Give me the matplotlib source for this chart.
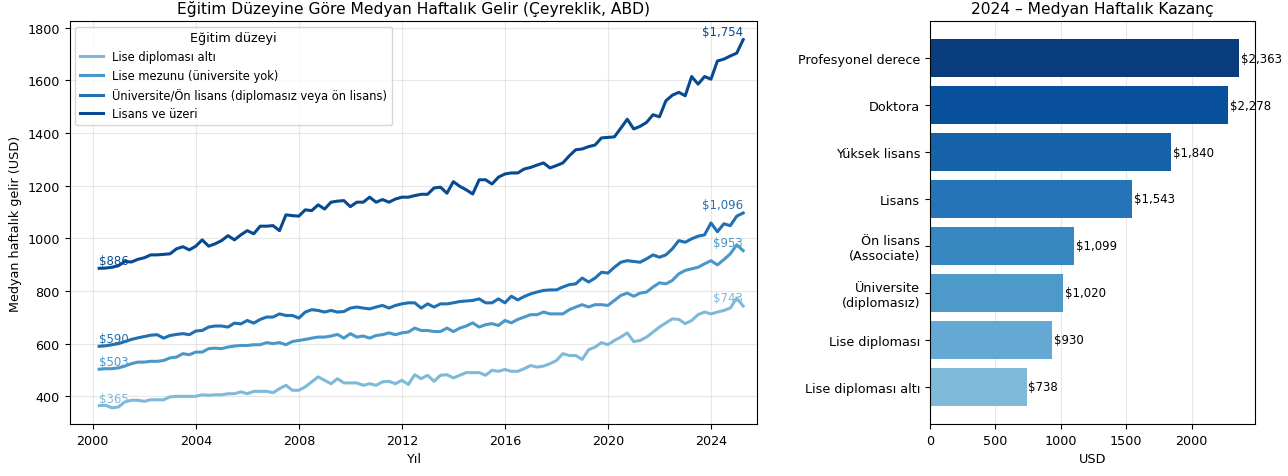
import numpy as np
import matplotlib
matplotlib.use("Agg")
import matplotlib.pyplot as plt

# quarterly medians, 2000Q1 .. 2025Q1
lise_alti = [
    365, 366, 356, 360,
    379, 385, 385, 381,
    387, 387, 387, 398,
    400, 400, 400, 400,
    406, 404, 406, 406,
    410, 410, 417, 410,
    419, 419, 419, 414,
    429, 442, 423, 423,
    436, 455, 474, 461,
    448, 467, 451, 451,
    451, 442, 448, 442,
    455, 457, 448, 461,
    445, 482, 467, 480,
    457, 480, 482, 470,
    480, 490, 490, 490,
    480, 499, 495, 502,
    495, 495, 505, 517,
    511, 515, 524, 536,
    562, 555, 555, 540,
    577, 587, 604, 596,
    612, 625, 641, 608,
    612, 625, 644, 663,
    679, 694, 692, 676,
    688, 710, 720, 713,
    720, 726, 735, 773,
    743,
]
lise_mezunu = [
    503, 505, 505, 508,
    515, 524, 530, 530,
    533, 533, 536, 546,
    549, 562, 558, 568,
    568, 581, 583, 581,
    587, 591, 593, 593,
    596, 596, 604, 600,
    604, 596, 608, 612,
    616, 621, 625, 625,
    629, 635, 621, 638,
    625, 629, 621, 631,
    634, 641, 634, 641,
    644, 659, 650, 650,
    646, 646, 659, 646,
    659, 667, 679, 663,
    672, 676, 669, 688,
    679, 692, 701, 710,
    710, 720, 713, 713,
    713, 729, 739, 748,
    739, 748, 748, 745,
    764, 783, 792, 780,
    792, 796, 815, 831,
    827, 840, 865, 878,
    884, 890, 903, 915,
    899, 919, 941, 975,
    953,
]
universite = [
    590, 592, 596, 600,
    608, 616, 622, 627,
    632, 634, 621, 631,
    635, 638, 634, 648,
    650, 663, 667, 667,
    663, 678, 675, 688,
    678, 692, 701, 701,
    713, 707, 707, 697,
    720, 729, 726, 720,
    726, 720, 722, 735,
    739, 735, 732, 739,
    745, 735, 745, 751,
    755, 755, 735, 751,
    739, 751, 751, 755,
    760, 762, 764, 770,
    755, 755, 770, 755,
    780, 766, 779, 789,
    796, 802, 804, 804,
    815, 824, 827, 849,
    834, 849, 871, 868,
    890, 909, 915, 912,
    909, 922, 937, 928,
    937, 960, 991, 985,
    998, 1008, 1013, 1058,
    1025, 1055, 1048, 1084,
    1096,
]
lisans_ustu = [
    886, 887, 890, 896,
    912, 910, 920, 926,
    937, 937, 939, 941,
    960, 968, 956, 970,
    994, 970, 979, 991,
    1010, 994, 1013, 1029,
    1017, 1046, 1046, 1048,
    1029, 1089, 1086, 1084,
    1108, 1105, 1127, 1111,
    1137, 1141, 1143, 1120,
    1137, 1137, 1156, 1137,
    1147, 1137, 1149, 1156,
    1156, 1162, 1167, 1167,
    1191, 1194, 1171, 1215,
    1197, 1184, 1168, 1222,
    1222, 1206, 1232, 1244,
    1248, 1248, 1263, 1269,
    1278, 1286, 1267, 1276,
    1286, 1313, 1336, 1339,
    1348, 1354, 1381, 1383,
    1385, 1418, 1452, 1415,
    1425, 1440, 1469, 1461,
    1522, 1543, 1554, 1541,
    1614, 1585, 1614, 1604,
    1673, 1680, 1692, 1703,
    1754,
]
seri_adlari = [
    "Lise diploması altı",
    "Lise mezunu (üniversite yok)",
    "Üniversite/Ön lisans (diplomasız veya ön lisans)",
    "Lisans ve üzeri",
]

# 2024 bar chart
kategoriler = [
    "Lise diploması altı",
    "Lise diploması",
    "Üniversite\n(diplomasız)",
    "Ön lisans\n(Associate)",
    "Lisans",
    "Yüksek lisans",
    "Doktora",
    "Profesyonel derece",
]
kazanc_2024 = [738, 930, 1020, 1099, 1543, 1840, 2278, 2363]

plt.rcParams["font.size"] = 9.2

# quarter-end positions as fractional years
n = len(lisans_ustu)
yillar = 2000.25 + 0.25 * np.arange(n)

fig = plt.figure(figsize=(12.88, 4.77), dpi=100)
ax1 = fig.add_axes([0.054, 0.109, 0.534, 0.845])
ax2 = fig.add_axes([0.722, 0.109, 0.252, 0.845])

line_colors = plt.cm.Blues([0.45, 0.6, 0.75, 0.9])
for seri, ad, c in zip([lise_alti, lise_mezunu, universite, lisans_ustu], seri_adlari, line_colors):
    ax1.plot(yillar, seri, color=c, lw=2.2, label=ad)
    ax1.text(yillar[0], seri[0] + 4, f"${seri[0]:,}", color=c, fontsize=8.5,
             ha="left", va="bottom")
    ax1.text(yillar[-1], seri[-1] + 8, f"${seri[-1]:,}", color=c, fontsize=8.5,
             ha="right", va="bottom")

ax1.set_xlim(1999.1, 2025.8)
ax1.set_ylim(295, 1825)
ax1.set_xticks([2000, 2004, 2008, 2012, 2016, 2020, 2024])
ax1.set_title("Eğitim Düzeyine Göre Medyan Haftalık Gelir (Çeyreklik, ABD)", fontsize=11.2)
ax1.set_xlabel("Yıl")
ax1.set_ylabel("Medyan haftalık gelir (USD)")
ax1.grid(True, alpha=0.3)
ax1.legend(title="Eğitim düzeyi", loc="upper left", fontsize=8.3, title_fontsize=9.2)

bar_colors = plt.cm.Blues(np.linspace(0.45, 0.95, len(kategoriler)))
ypos = np.arange(len(kategoriler))
ax2.barh(ypos, kazanc_2024, color=bar_colors, height=0.8)
ax2.set_yticks(ypos)
ax2.set_yticklabels(kategoriler)
for y, v in zip(ypos, kazanc_2024):
    ax2.text(v + 15, y, f"${v:,}", va="center", fontsize=8.5)
ax2.set_xlim(0, 2480)
ax2.set_xlabel("USD")
ax2.set_title("2024 – Medyan Haftalık Kazanç", fontsize=11.2)
ax2.grid(True, axis="x", alpha=0.3)
ax2.set_axisbelow(True)

fig.savefig("out.png", dpi=100)
